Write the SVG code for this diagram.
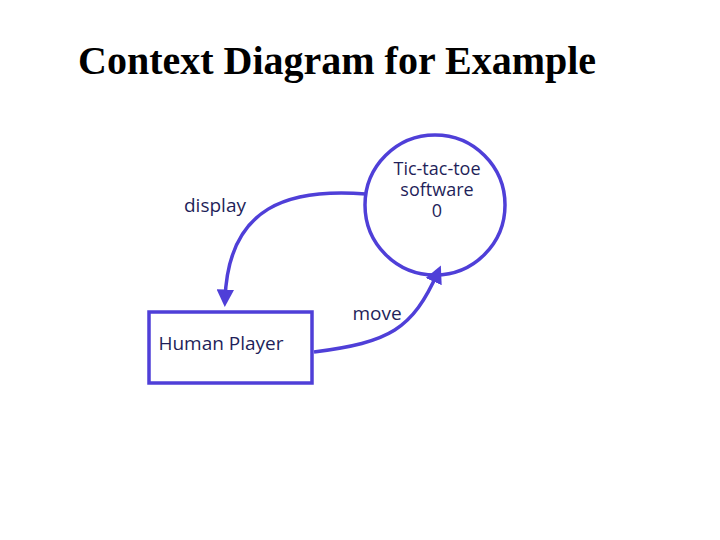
<svg xmlns="http://www.w3.org/2000/svg" width="720" height="540" viewBox="0 0 720 540">
<style>
.t{font-family:"Open Sans","Liberation Sans",sans-serif;font-size:19px;fill:#1f1f5a;text-anchor:middle}
.c{font-size:18px}
.s{fill:none;stroke:#4f3fd8;stroke-width:3.5}
</style>
<defs><marker id="a" markerWidth="5" markerHeight="5" refX="3" refY="2.5" orient="auto"><path d="M0,0L5,2.5L0,5z" fill="#4f3fd8"/></marker></defs>
<rect width="720" height="540" fill="#fff"/>
<text x="78" y="74" style="font-family:'Liberation Serif',serif;font-size:40px;font-weight:bold;fill:#000">Context Diagram for Example</text>
<g id="process"><circle class="s" cx="435" cy="205" r="70"/>
<text class="t c" x="437" y="175">Tic-tac-toe</text><text class="t c" x="437" y="196">software</text><text class="t c" x="437" y="217">0</text></g>
<g id="human"><rect class="s" x="149" y="312" width="163" height="71"/><text class="t" x="221" y="350">Human Player</text></g>
<g id="connectors">
<path class="s" d="M366,194 C290,188 228,205 225,300" marker-end="url(#a)"/>
<path class="s" d="M314,352 C390,342 412,330 438,272" marker-end="url(#a)"/>
<text class="t" x="215" y="212">display</text>
<text class="t" x="377" y="320">move</text>
</g>
</svg>
